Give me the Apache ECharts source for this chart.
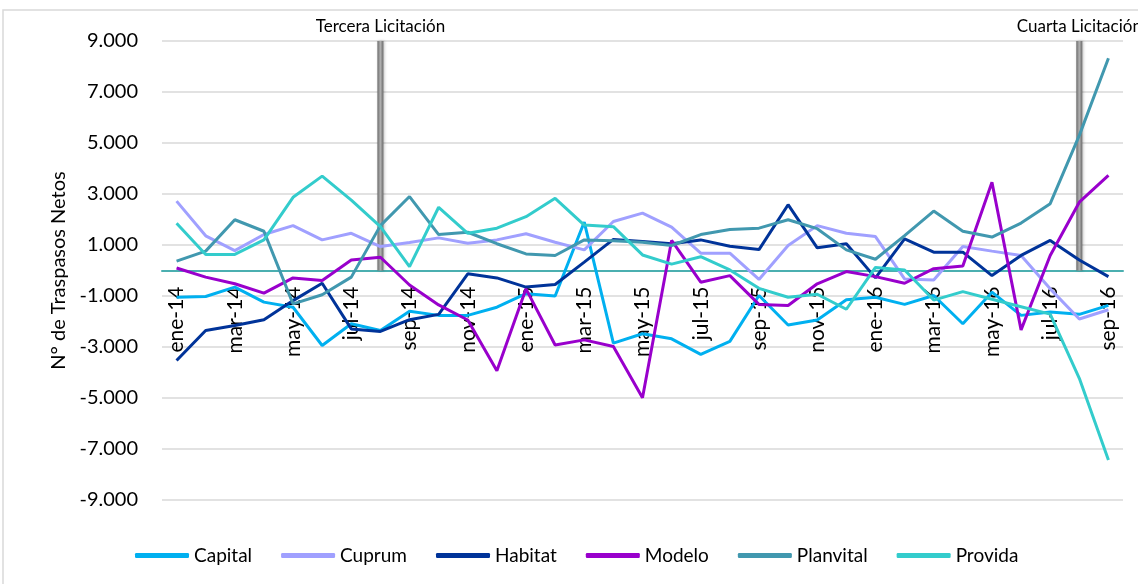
<!DOCTYPE html>
<html>
<head>
<meta charset="utf-8">
<script src="https://cdn.jsdelivr.net/npm/echarts@6/dist/echarts.min.js"></script>
<style>
  html, body { margin: 0; padding: 0; background: #fff; }
  #chart { width: 1138px; height: 584px; }
</style>
</head>
<body>
<div id="chart"></div>
<script>
const months = [
  "ene-14", "feb-14", "mar-14", "abr-14", "may-14", "jun-14", "jul-14", "ago-14", "sep-14", "oct-14", "nov-14", "dic-14",
  "ene-15", "feb-15", "mar-15", "abr-15", "may-15", "jun-15", "jul-15", "ago-15", "sep-15", "oct-15", "nov-15", "dic-15",
  "ene-16", "feb-16", "mar-16", "abr-16", "may-16", "jun-16", "jul-16", "ago-16", "sep-16",
];

const capital = [-1050, -1020, -650, -1240, -1440, -2940, -2090, -2350, -1600, -1760, -1760, -1440, -910, -1000, 1900, -2850, -2480, -2680, -3290, -2780, -980, -2140, -1940, -1150, -1050, -1330, -980, -2090, -850, -1760, -1630, -1720, -1370];
const cuprum = [2720, 1360, 780, 1410, 1760, 1200, 1460, 940, 1100, 1280, 1070, 1200, 1440, 1110, 810, 1920, 2250, 1700, 680, 680, -350, 980, 1760, 1460, 1330, -330, -370, 940, 760, 590, -720, -1900, -1540];
const habitat = [-3530, -2350, -2160, -1930, -1180, -500, -2290, -2390, -1930, -1720, -130, -290, -650, -550, 330, 1220, 1140, 1050, 1200, 950, 820, 2580, 890, 1050, -290, 1240, 720, 720, -200, 590, 1180, 410, -240];
const modelo = [100, -260, -520, -890, -290, -390, 410, 520, -570, -1350, -1940, -3930, -720, -2920, -2720, -2980, -4990, 1180, -460, -200, -1330, -1370, -520, -40, -240, -500, 70, 180, 3460, -2330, 590, 2680, 3730];
const planvital = [370, 760, 1990, 1540, -1310, -950, -260, 1760, 2900, 1410, 1500, 1050, 650, 590, 1200, 1170, 1110, 980, 1410, 1610, 1660, 1990, 1640, 810, 440, 1370, 2330, 1540, 1310, 1860, 2620, 5300, 8320];
const provida = [1850, 630, 630, 1200, 2870, 3700, 2760, 1720, 150, 2480, 1460, 1660, 2110, 2830, 1780, 1720, 610, 250, 540, 20, -700, -1050, -930, -1520, 120, 20, -1160, -830, -1130, -1420, -1710, -4230, -7430];

// licitaciones: month and label
const eventMonths = ["ago-14", "ago-16"];
const eventLabels = ["Tercera Licitación", "Cuarta Licitación"];
const eventHeight = 9000;

const yTicks = { min: -9000, max: 9000, interval: 2000 };

const FONT = "Lato";
const GRID = { left: 162, right: 15, top: 41, bottom: 84 };
const CHART_H = 584;

function formatThousands(value) {
  const s = Math.abs(value).toString().replace(/\B(?=(\d{3})+(?!\d))/g, ".");
  return (value < 0 ? "-" : "") + s;
}

// the month labels sit on the zero line, not at the bottom of the grid
const gridHeight = CHART_H - GRID.top - GRID.bottom;
const zeroOffset = -gridHeight * (0 - yTicks.min) / (yTicks.max - yTicks.min);

const eventData = months.map((m) => (eventMonths.includes(m) ? eventHeight : null));

function lineSeries(name, data, color) {
  return {
    name,
    type: "line",
    data,
    symbol: "none",
    z: 3,
    lineStyle: { width: 3, color },
    itemStyle: { color },
  };
}

const chart = echarts.init(document.getElementById("chart"));

chart.setOption({
  animation: false,
  textStyle: { fontFamily: FONT },
  graphic: [
    {
      type: "rect",
      shape: { x: 3, y: 10, width: 1160, height: 600 },
      style: { fill: "none", stroke: "#d9d9d9", lineWidth: 1.5 },
      silent: true,
    },
  ],
  grid: GRID,
  legend: {
    data: ["Capital", "Cuprum", "Habitat", "Modelo", "Planvital", "Provida"],
    left: 130,
    top: 541,
    icon: "roundRect",
    itemWidth: 54,
    itemHeight: 5,
    itemGap: 29,
    textStyle: { fontFamily: FONT, fontSize: 19, color: "#000" },
  },
  xAxis: {
    type: "category",
    data: months,
    boundaryGap: true,
    position: "bottom",
    offset: zeroOffset,
    axisLine: { onZero: false, lineStyle: { color: "#4bafb0", width: 2 } },
    axisTick: { show: false },
    axisLabel: {
      interval: 1,
      rotate: 90,
      margin: 16,
      fontFamily: FONT,
      fontSize: 21,
      color: "#000",
    },
    splitLine: { show: false },
  },
  yAxis: {
    type: "value",
    min: yTicks.min,
    max: yTicks.max,
    interval: yTicks.interval,
    name: "N° de Traspasos Netos",
    nameLocation: "middle",
    nameGap: 86,
    nameTextStyle: { fontFamily: FONT, fontSize: 20, color: "#000" },
    axisLine: { show: false },
    axisTick: { show: false },
    axisLabel: {
      formatter: formatThousands,
      fontFamily: FONT,
      fontSize: 20,
      color: "#000",
      margin: 24,
    },
    splitLine: { lineStyle: { color: "#d9d9d9", width: 1.5 } },
  },
  series: [
    {
      name: "Licitación",
      type: "bar",
      data: eventData,
      barWidth: 6,
      z: 1,
      itemStyle: {
        color: new echarts.graphic.LinearGradient(0, 0, 1, 0, [
          { offset: 0, color: "#6a6a6a" },
          { offset: 0.5, color: "#b0b0b0" },
          { offset: 1, color: "#6a6a6a" },
        ]),
        shadowColor: "rgba(0,0,0,0.25)",
        shadowBlur: 3,
        shadowOffsetX: 1,
      },
      label: {
        show: true,
        position: "top",
        distance: 6,
        fontFamily: FONT,
        fontSize: 17,
        color: "#000",
        formatter: (p) => eventLabels[eventMonths.indexOf(p.name)],
      },
    },
    lineSeries("Capital", capital, "#00b0f0"),
    lineSeries("Cuprum", cuprum, "#a0a0ff"),
    lineSeries("Habitat", habitat, "#003399"),
    lineSeries("Modelo", modelo, "#9900cc"),
    lineSeries("Planvital", planvital, "#4198af"),
    lineSeries("Provida", provida, "#33cccc"),
  ],
});
</script>
</body>
</html>
